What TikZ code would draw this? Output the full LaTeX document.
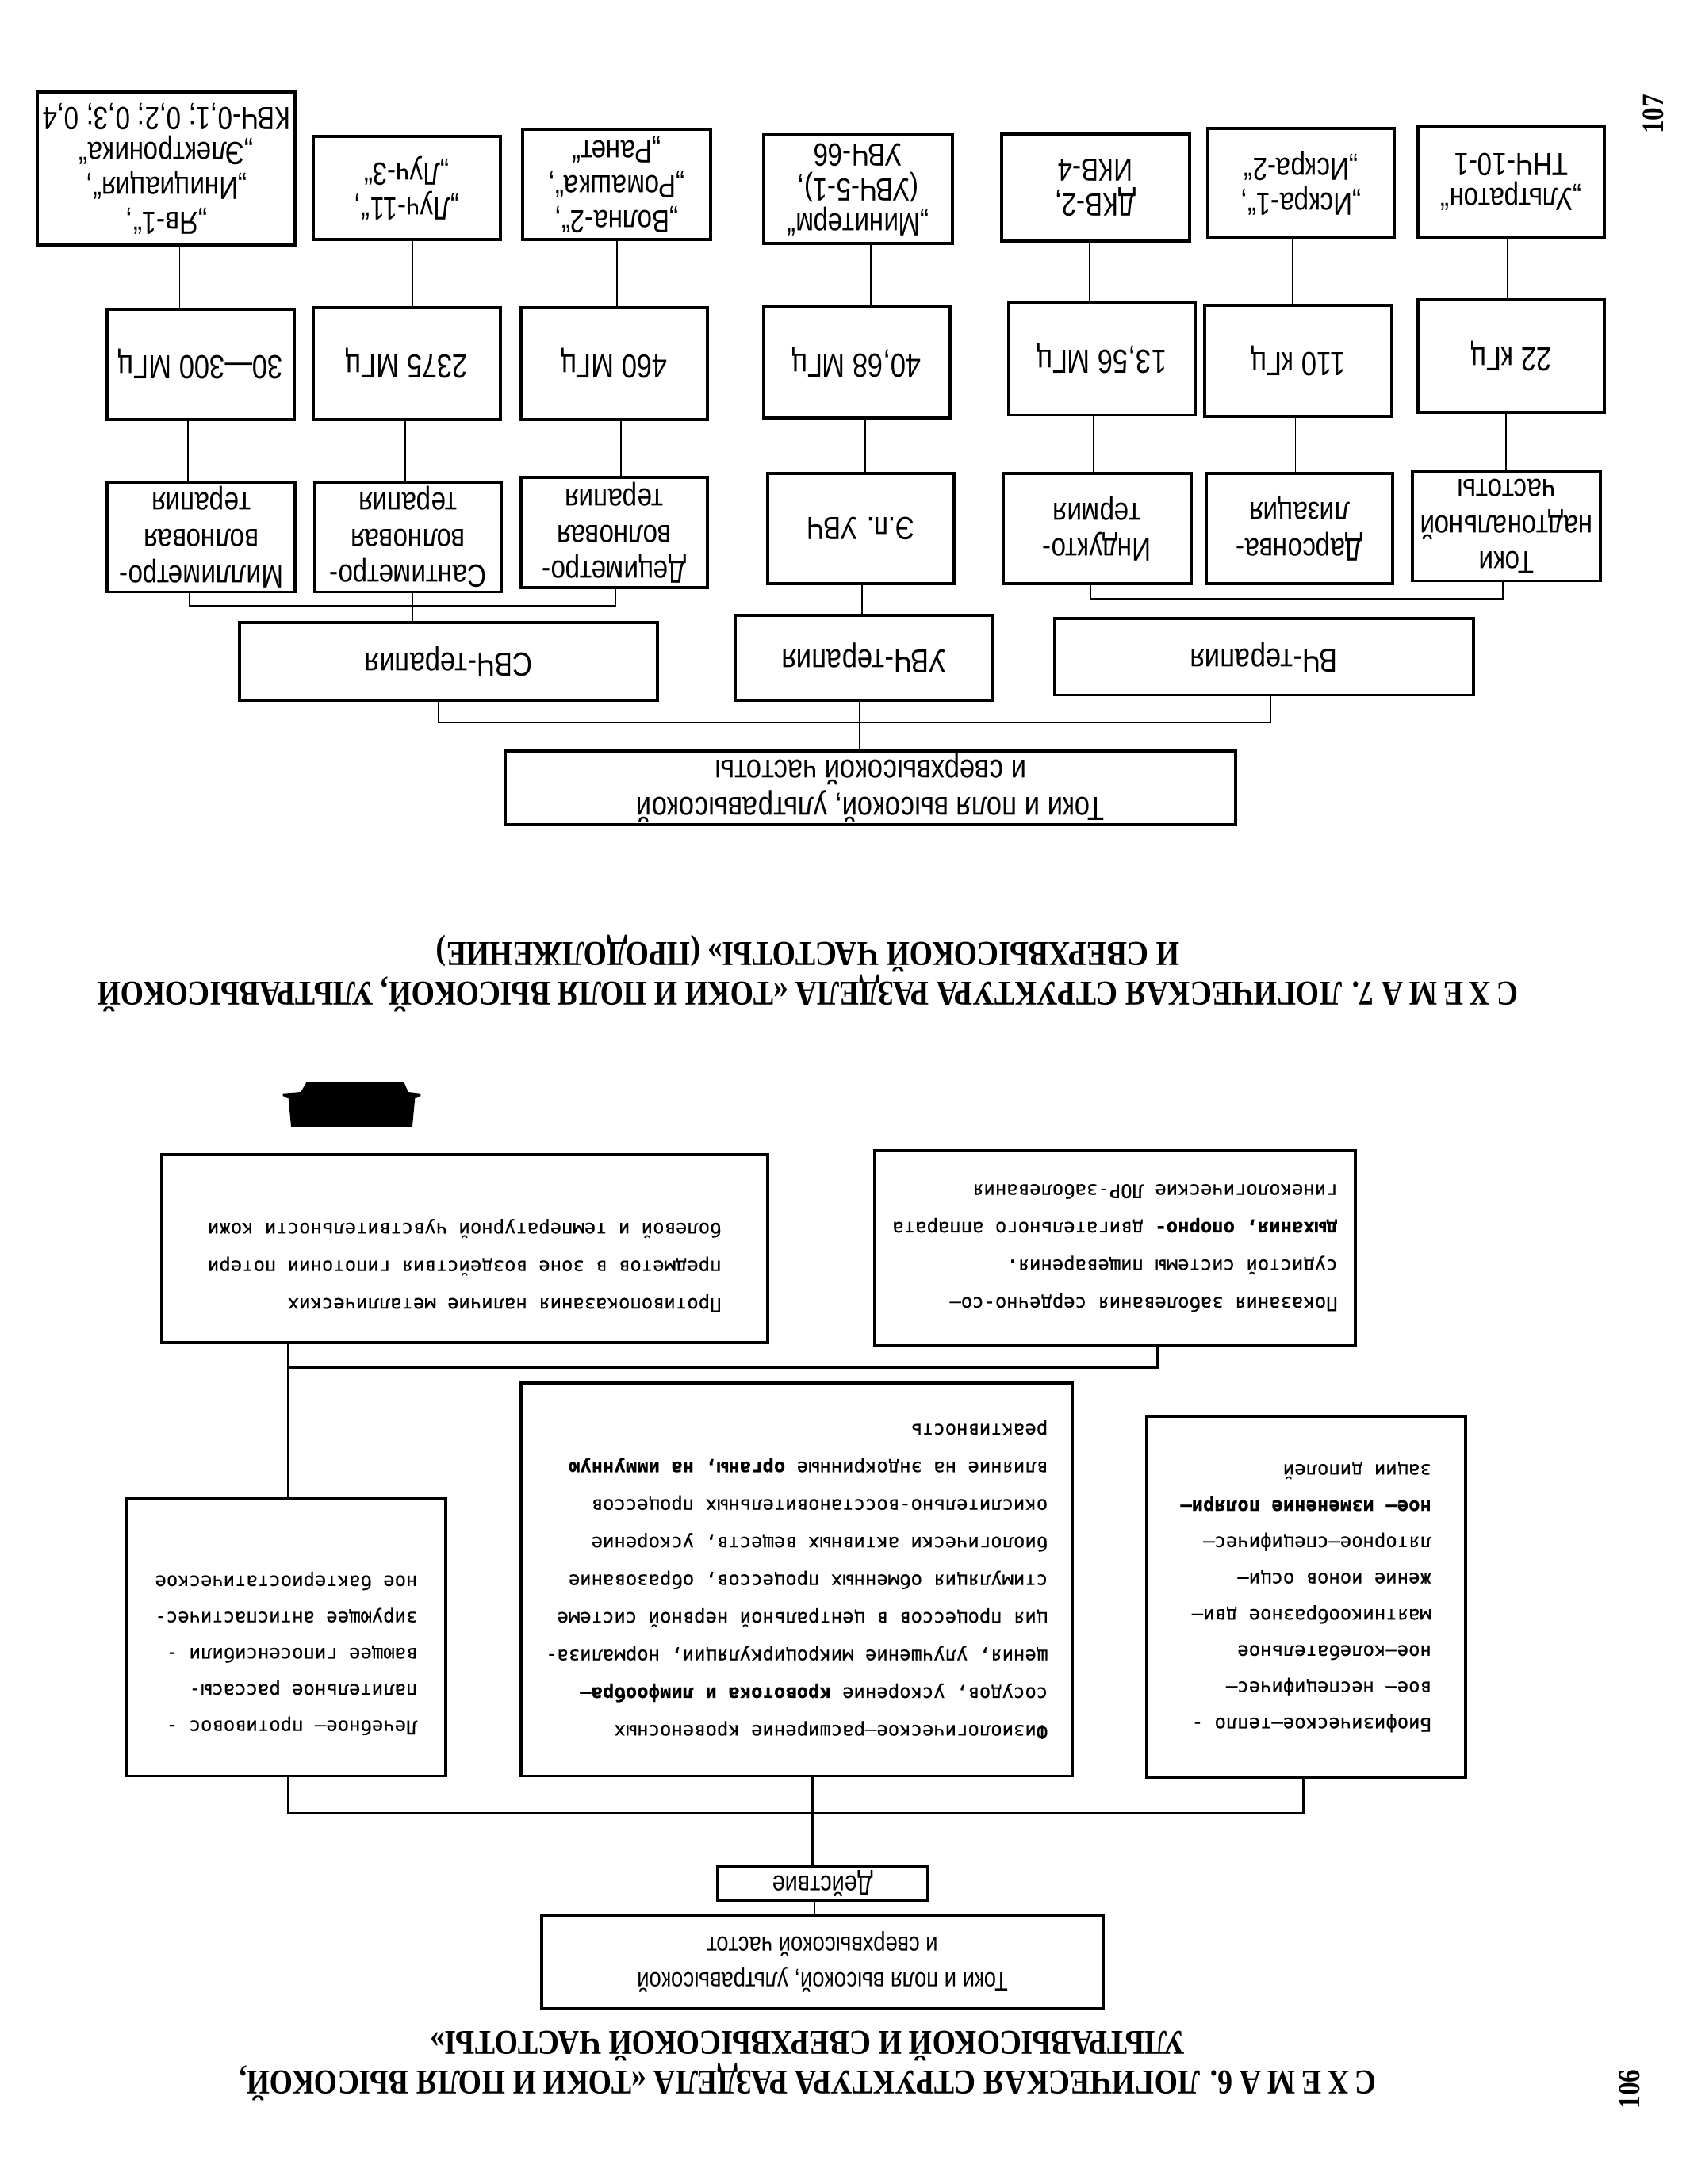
\documentclass[tikz,border=0pt]{standalone}
\usepackage{fontspec}
\setmainfont{Liberation Sans}
\newfontfamily\nar[FakeStretch=0.82]{Liberation Sans}
\newfontfamily\mono[FakeBold=0.4]{DejaVu Sans Mono}
\newfontfamily\headfont[FakeStretch=0.86]{Liberation Serif}
\def\un{0.49986pt}
\newcommand\bx[7][]{\node[box,#1,minimum width={(#5-#3)*\un},minimum height={(#6-#4)*\un}] (#2) at ({(#3+#5)/2},{(#4+#6)/2}) {#7};}
\tikzset{
  box/.style={draw, line width=1.1pt, rotate=180, inner sep=0pt, align=center},
  sdev/.style={font=\nar\fontsize{11.5}{12.5}\selectfont},
  sfrq/.style={font=\nar\fontsize{12}{13.5}\selectfont},
  sthr/.style={font=\nar\fontsize{11.5}{13}\selectfont},
  ssm/.style={font=\nar\fontsize{9.5}{13}\selectfont},
  smono/.style={font=\mono\fontsize{6.8}{13.5}\selectfont, align=left},
  lnk/.style={line width=0.5pt},
  lnkb/.style={line width=0.9pt},
  head/.style={rotate=180, align=center, inner sep=0pt, font=\headfont\bfseries\fontsize{12.5}{13}\selectfont},
  pagenum/.style={rotate=90, inner sep=0pt, font=\headfont\bfseries\fontsize{11}{12}\selectfont}
}
\begin{document}
\begin{tikzpicture}[x=0.017568cm,y=-0.017568cm]
\useasboundingbox (0,0) rectangle (1213,1568);
\fill[white] (0,0) rectangle (1213,1568);

% ---------------- Schema 7 ----------------
\bx[sdev]{B1}{27}{66}{212}{176}{„Яв-1“,\\„Инициация“,\\„Электроника“\\КВЧ-0,1; 0,2; 0,3; 0,4}
\bx[sdev]{B2}{225}{98}{359}{172}{„Луч-11“,\\„Луч-3“}
\bx[sdev]{B3}{375}{93}{510}{172}{„Волна-2“,\\„Ромашка“,\\„Ранет“}
\bx[sdev]{B4}{548}{97}{684}{175}{„Минитерм“\\(УВЧ-5-1),\\УВЧ-66}
\bx[sdev]{B5}{719}{96}{854}{173}{ДКВ-2,\\ИКВ-4}
\bx[sdev]{B6}{867}{92}{1001}{171}{„Искра-1“,\\„Искра-2“}
\bx[sdev]{B7}{1018}{91}{1152}{170}{„Ультратон“\\ТНЧ-10-1}

\bx[sfrq]{F1}{77}{222}{211}{301}{30—300 МГц}
\bx[sfrq]{F2}{225}{221}{359}{301}{2375 МГц}
\bx[sfrq]{F3}{374}{221}{508}{301}{460 МГц}
\bx[sfrq]{F4}{548}{220}{682}{300}{40,68 МГц}
\bx[sfrq]{F5}{724}{217}{858}{298}{13,56 МГц}
\bx[sfrq]{F6}{865}{219}{999}{299}{110 кГц}
\bx[sfrq]{F7}{1018}{215}{1152}{296}{22 кГц}

\bx[sthr]{T1}{77}{346}{212}{425}{Миллиметро-\\волновая\\терапия}
\bx[sthr]{T2}{226}{346}{360}{425}{Сантиметро-\\волновая\\терапия}
\bx[sthr]{T3}{374}{343}{508}{422}{Дециметро-\\волновая\\терапия}
\bx[sthr]{T4}{551}{340}{685}{419}{Э.п. УВЧ}
\bx[sthr]{T5}{720}{340}{855}{419}{Индукто-\\термия}
\bx[sthr]{T6}{866}{340}{1000}{419}{Дарсонва-\\лизация}
\bx[sthr]{T7}{1014}{339}{1149}{417}{Токи\\надтональной\\частоты}

\bx[sfrq]{SVCH}{172}{447}{472}{503}{СВЧ-терапия}
\bx[sfrq]{UVCH}{528}{442}{713}{503}{УВЧ-терапия}
\bx[sfrq]{VCH}{757}{444}{1058}{499}{ВЧ-терапия}

\bx[sfrq]{R7}{363}{539}{887}{592}{Токи и поля высокой, ультравысокой\\и сверхвысокой частоты}

% connectors device -> frequency
\draw[lnk] (129,0 |- B1.north) -- (129,0 |- F1.south);
\draw[lnk] (296,0 |- B2.north) -- (296,0 |- F2.south);
\draw[lnk] (443,0 |- B3.north) -- (443,0 |- F3.south);
\draw[lnk] (625,0 |- B4.north) -- (625,0 |- F4.south);
\draw[lnk] (782,0 |- B5.north) -- (782,0 |- F5.south);
\draw[lnk] (928,0 |- B6.north) -- (928,0 |- F6.south);
\draw[lnk] (1082,0 |- B7.north) -- (1082,0 |- F7.south);
% frequency -> therapy
\draw[lnk] (135,0 |- F1.north) -- (135,0 |- T1.south);
\draw[lnk] (291,0 |- F2.north) -- (291,0 |- T2.south);
\draw[lnk] (446,0 |- F3.north) -- (446,0 |- T3.south);
\draw[lnk] (621,0 |- F4.north) -- (621,0 |- T4.south);
\draw[lnk] (785,0 |- F5.north) -- (785,0 |- T5.south);
\draw[lnk] (930,0 |- F6.north) -- (930,0 |- T6.south);
\draw[lnk] (1081,0 |- F7.north) -- (1081,0 |- T7.south);
% brackets
\coordinate (j7a) at (296,435);
\draw[lnk] (136,0 |- T1.north) |- (j7a) -| (442,0 |- T3.north);
\draw[lnk] (296,0 |- T2.north) -- (296,0 |- SVCH.south);
\draw[lnk] (619,0 |- T4.north) -- (619,0 |- UVCH.south);
\coordinate (j7b) at (926,430);
\draw[lnk] (783,0 |- T5.north) |- (j7b) -| (1079,0 |- T7.north);
\draw[lnk] (926,0 |- T6.north) -- (926,0 |- VCH.south);
\coordinate (j7c) at (617,519);
\draw[lnk] (315,0 |- SVCH.north) |- (j7c) -| (912,0 |- VCH.north);
\draw[lnk] (617,0 |- UVCH.north) -- (617,0 |- R7.south);

\node[head] (H7) at (580,699) {С\,Х\,Е\,М\,А 7. ЛОГИЧЕСКАЯ СТРУКТУРА РАЗДЕЛА «ТОКИ И ПОЛЯ ВЫСОКОЙ, УЛЬТРАВЫСОКОЙ\\И СВЕРХВЫСОКОЙ ЧАСТОТЫ» (ПРОДОЛЖЕНИЕ)};
\node[pagenum] (P107) at (1187,82) {107};

% ---------------- Schema 6 ----------------
\fill (220,777) -- (290,777) -- (293,784) -- (302,785) -- (302,787) -- (298,788) -- (296,809) -- (209,809) -- (207,788) -- (203,787) -- (203,785) -- (216,784) -- cycle;

\bx[smono]{PROT}{116}{829}{551}{964}{Противопоказания наличие  металлических\\предметов в зоне воздействия гипотонии потери\\болевой и температурной чувствительности кожи\\\mbox{}}
\bx[smono]{POK}{628}{826}{973}{966}{Показания  заболевания сердечно-со—\\судистой  системы пищеварения.\\{\bfseries дыхания, опорно-} двигательного аппарата\\гинекологические  ЛОР-заболевания}
\bx[smono,font=\mono\fontsize{6.8}{13.5}\selectfont]{MID}{374}{993}{770}{1275}{Физиологическое—расширение  кровеносных\\сосудов, ускорение  {\bfseries кровотока и лимфообра—}\\щения,  улучшение микроциркуляции, нормализа-\\ция процессов в центральной нервной системе\\стимуляция обменных процессов, образование\\биологически активных  веществ, ускорение\\окислительно-восстановительных процессов\\влияние на эндокринные {\bfseries органы, на  иммунную}\\реактивность}
\bx[smono,font=\mono\fontsize{6.8}{13}\selectfont]{LECH}{91}{1076}{320}{1275}{Лечебное— противовос -\\палительное  рассасы-\\вающее  гипосенсибили -\\зирующее  антиспастичес-\\ное  бактериостатическое\\\mbox{}}
\bx[smono,font=\mono\fontsize{6.8}{13}\selectfont]{BIO}{823}{1017}{1052}{1276}{Биофизическое—тепло -\\вое— неспецифичес—\\ное—колебательное\\маятникообразное дви—\\жение ионов   осци—\\ляторное—специфичес—\\{\bfseries ное— изменение поляри—}\\зации диполей}

\bx[ssm,font=\nar\fontsize{10}{12}\selectfont]{DEJ}{515}{1340}{666}{1364}{Действие}
\bx[ssm]{R6}{389}{1375}{792}{1442}{Токи и поля высокой, ультравысокой\\и сверхвысокой частот}

\coordinate (j6a) at (207,982);
\draw[lnkb] (207,0 |- PROT.north) -- (207,0 |- LECH.south);
\draw[lnkb] (831,0 |- POK.north) |- (j6a);
\coordinate (j6b) at (583,1302);
\draw[lnkb] (207,0 |- LECH.north) |- (j6b) -| (936,0 |- BIO.north);
\draw[lnkb] (583,0 |- MID.north) -- (583,0 |- DEJ.south);
\draw[lnk] (585,0 |- DEJ.north) -- (585,0 |- R6.south);

\node[head] (H6) at (580,1483) {С\,Х\,Е\,М\,А 6. ЛОГИЧЕСКАЯ СТРУКТУРА РАЗДЕЛА «ТОКИ И ПОЛЯ ВЫСОКОЙ,\\УЛЬТРАВЫСОКОЙ И СВЕРХВЫСОКОЙ ЧАСТОТЫ»};
\node[pagenum] (P106) at (1170,1500) {106};
\end{tikzpicture}
\end{document}
